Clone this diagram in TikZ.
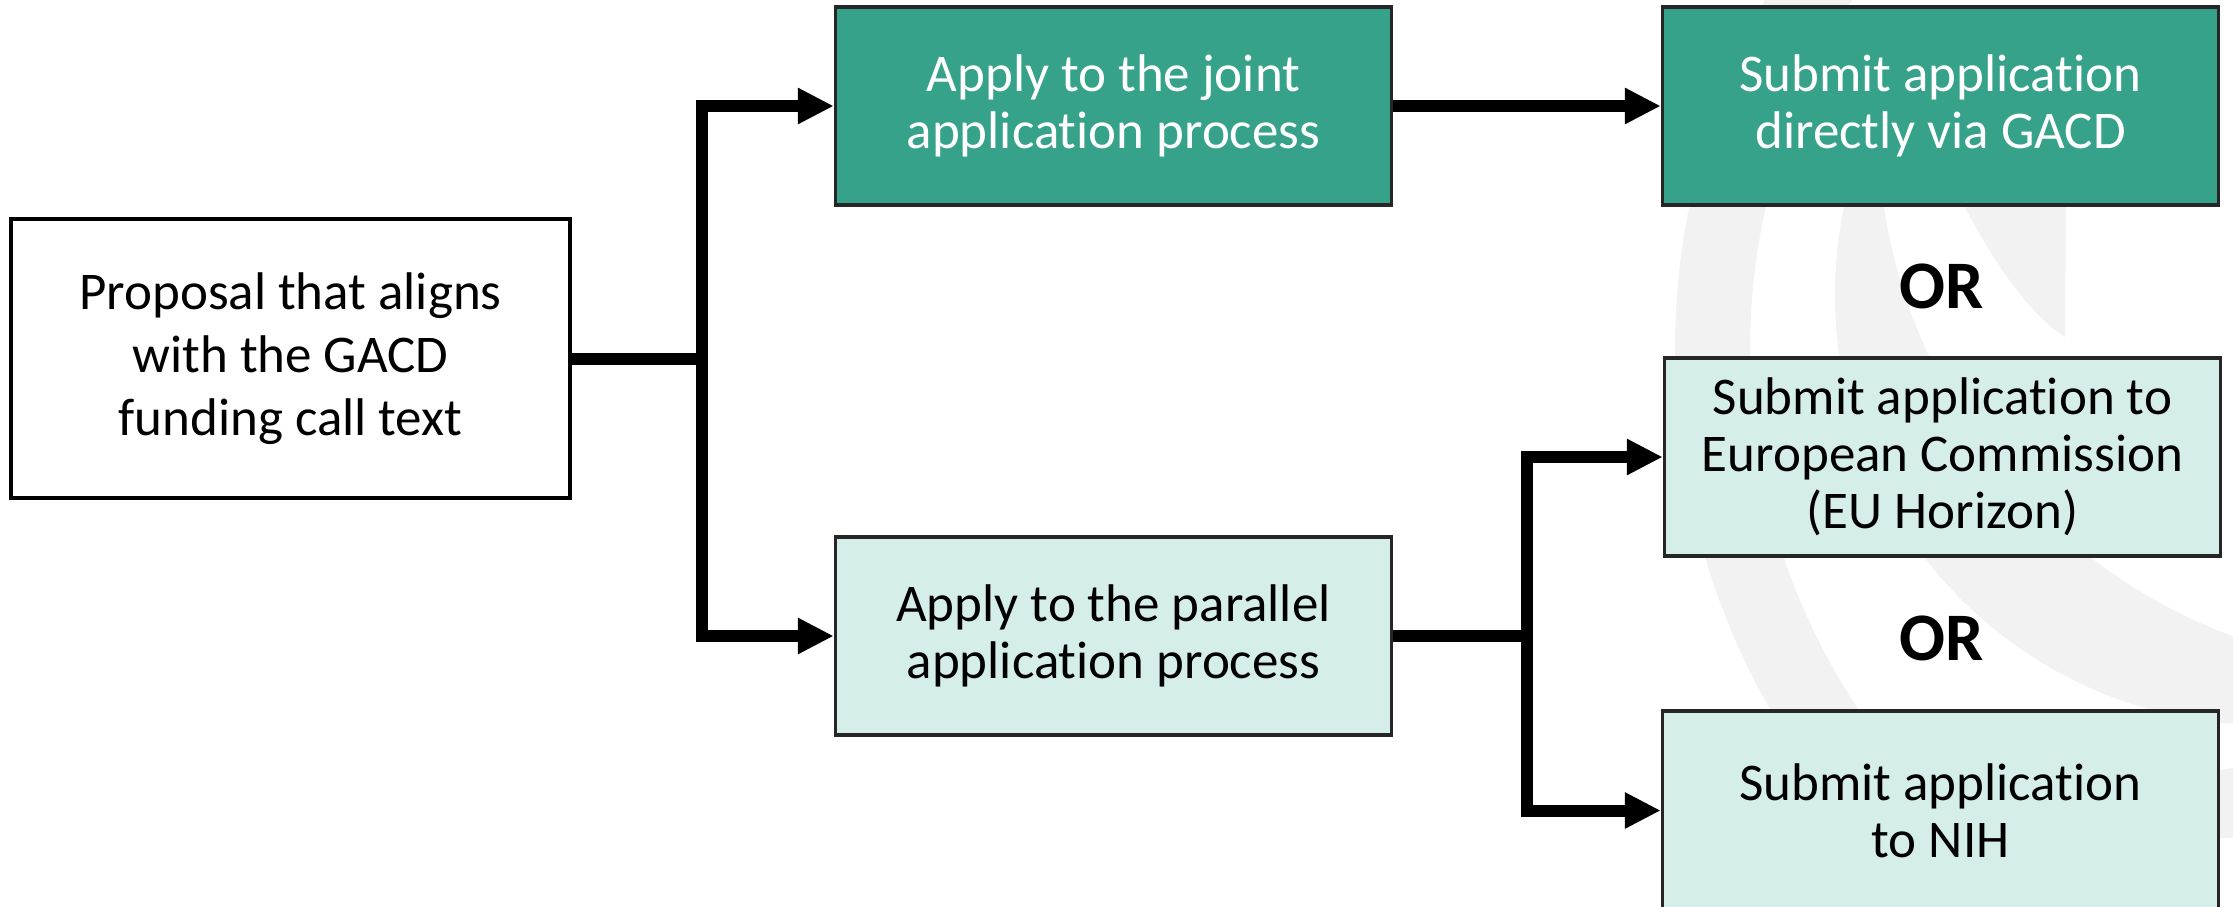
\documentclass[tikz,border=0pt]{standalone}
\usepackage{fontspec}
\setmainfont{Carlito}[Ligatures={NoCommon,NoContextual}]
\usetikzlibrary{arrows.meta}
\definecolor{tealdark}{HTML}{37A28A}
\definecolor{teallight}{HTML}{D5EEE9}
\definecolor{wmgrey}{HTML}{F2F2F2}
\definecolor{edgegrey}{HTML}{262626}
\begin{document}
\begin{tikzpicture}[x=1pt,y=-1pt,
  box/.style={draw=edgegrey, line width=3.5pt, align=center, inner sep=0pt,
    font=\fontsize{53}{57}\selectfont},
  startbox/.style={box, draw=black, fill=white, minimum width=559pt, minimum height=279pt,
    font=\fontsize{53}{63}\selectfont},
  darkbox/.style={box, fill=tealdark, text=white, minimum width=556pt, minimum height=198pt},
  lightbox/.style={box, fill=teallight, minimum width=556pt, minimum height=198pt},
  ortext/.style={font=\fontsize{68}{68}\selectfont\bfseries},
  conn/.style={line width=12pt, line join=miter, draw=black},
  arr/.style={conn, -{Triangle[length=36pt,width=34pt]}}]
\useasboundingbox (0,0) rectangle (2233,906);
\clip (0,0) rectangle (2233,906);
\fill[white] (0,0) rectangle (2233,906);
% watermark
\fill[wmgrey, even odd rule] (2400,350) circle[radius=725] (2400,350) circle[radius=650];
\begin{scope}
  \clip (2265,295) circle[radius=430];
  \fill[wmgrey, even odd rule] (1700,-200) rectangle (2800,1000) (2422,126) circle[radius=544];
\end{scope}
\fill[wmgrey] (1961,200) .. controls (1995,265) and (2030,315) .. (2065,337) -- (2066,200) -- cycle;
\fill[wmgrey] (2200,776) .. controls (2215,771) .. (2233,768) -- (2233,838) .. controls (2215,838) .. (2200,834) -- cycle;
% nodes
\node[startbox] (A) at (290.5,358.5) {Proposal that aligns\\with the GACD\\funding call text};
\node[darkbox] (B) at (1113.5,106) {Apply to the joint\\application process};
\node[lightbox] (C) at (1113.5,636) {Apply to the parallel\\application process};
\node[darkbox] (D) at (1940.5,106) {Submit application\\directly via GACD};
\node[lightbox] (E) at (1942.5,457) {Submit application to\\European Commission\\(EU Horizon)};
\node[lightbox, minimum height=199pt] (F) at (1940.5,810.5) {Submit application\\to NIH};
\node[ortext] (or1) at (1942,286) {OR};
\node[ortext] (or2) at (1942,638) {OR};
% connectors
\coordinate (j1) at (702,358.5);
\coordinate (j2) at (1527,636);
\draw[conn] (A.east) -- (j1);
\draw[arr] (j1) |- (B.west);
\draw[arr] (j1) |- (C.west);
\draw[arr] (B.east) -- (D.west);
\draw[conn] (C.east) -- (j2);
\draw[arr] (j2) |- (E.west);
\draw[arr] (j2) |- (F.west);
\end{tikzpicture}
\end{document}
